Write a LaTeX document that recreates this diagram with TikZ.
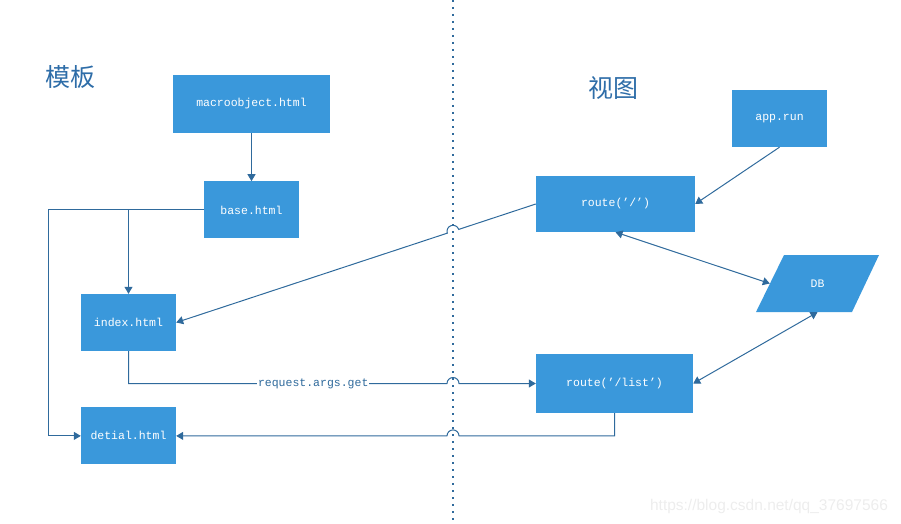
\documentclass[tikz,border=0pt]{standalone}
\usepackage{fontspec}
\setmonofont{Liberation Mono}
\newfontfamily\cjk{Noto Sans CJK SC}
\newfontfamily\wmfont{Liberation Sans}
\usetikzlibrary{arrows.meta,positioning}
\definecolor{boxblue}{HTML}{3A98DB}
\definecolor{lineblue}{HTML}{2F6A9C}
\definecolor{titleblue}{HTML}{2E6DA8}

\begin{document}
\begin{tikzpicture}[x=1pt,y=1pt,>={Triangle[length=7pt,width=8pt]},
  every node/.style={font=\ttfamily\fontsize{11.5}{13}\selectfont},
  blk/.style={fill=boxblue,text=white,inner sep=0pt,minimum width=95pt,minimum height=57pt},
  link/.style={draw=lineblue,line width=1pt},
  title/.style={text=titleblue,font=\cjk\fontsize{25}{28}\selectfont}]
\useasboundingbox (0,0) rectangle (901,-524);
% separator
\coordinate (sepTop) at (453,0);
\coordinate (sepBot) at (453,-524);
\draw[lineblue,line width=1.2pt,dash pattern=on 2pt off 5pt] (sepTop) -- (sepBot);
\node[title] (tpl) at (70,-77) {模板};
\node[title] (view) at (613,-88) {视图};
% template side
\node[blk,minimum width=157pt,minimum height=58pt] (macro) at (251.5,-104) {macroobject.html};
\node[blk,below=48pt of macro] (base) {base.html};
\node[blk] (idx) at (128.5,-322.5) {index.html};
\node[blk,below=56pt of idx] (det) {detial.html};
\coordinate[left=155pt of base.west] (bend);
% view side
\node[blk] (app) at (779.5,-118.5) {app.run};
\node[blk,minimum width=159pt,minimum height=56pt] (rt) at (615.5,-204) {route(’/’)};
\node[blk,minimum width=157pt,minimum height=59pt] (rtl) at (614.5,-383.5) {route(’/list’)};
\fill[boxblue] (784,-255) -- (879,-255) -- (852,-312) -- (756,-312) -- cycle;
\node[text=white,inner sep=0pt,minimum width=95pt,minimum height=57pt] (db) at (817.5,-283.5) {DB};
\coordinate (cx) at (intersection of rt.west--idx.east and sepTop--sepBot);
% connectors
\draw[link,->] (macro) -- (base);
\draw[link,->] (base.west) -- (bend) |- (det.west);
\draw[link,->] (base.west -| idx.north) -- (idx.north);
\draw[link,->] (rt.west) -- ([shift={(18.2:6)}]cx) arc[start angle=18.2,end angle=198.2,radius=6] -- (idx.east);
\draw[link,->] (idx.south) |- ([xshift=-6pt]rtl.west -| sepTop) node[pos=0.79,fill=white,text=lineblue,inner sep=1pt] (req) {request.args.get}
  arc[start angle=180,end angle=0,radius=6] -- (rtl.west);
\draw[link,->] (rtl.south) |- ([xshift=6pt]det.east -| sepTop) arc[start angle=0,end angle=180,radius=6] -- (det.east);
\draw[link,->] (app.south) -- (rt.east);
\draw[link,<->] (rt.south) -- (db.west);
\draw[link,<->] (rtl.east) -- (db.south);
\node[font=\wmfont\fontsize{15.5}{17}\selectfont,text=black!7] (wm) at (769,-506) {https://blog.csdn.net/qq\_37697566};
\end{tikzpicture}
\end{document}
